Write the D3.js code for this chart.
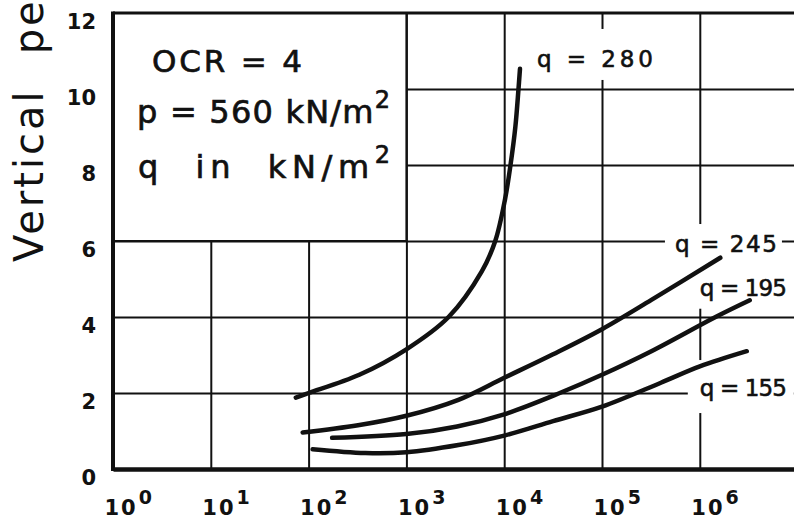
<!DOCTYPE html>
<html>
<head>
<meta charset="utf-8">
<script src="https://cdn.jsdelivr.net/npm/d3@7"></script>
<style>
  html, body { margin: 0; padding: 0; background: #fff; }
  svg { display: block; }
  text { font-family: "DejaVu Sans", "Liberation Sans", sans-serif; fill: #111; }
</style>
</head>
<body>
<script>
// Permanent strain against number of load cycles, OCR = 4, p = 560 kN/m2
const xTickValues = [1, 10, 100, 1e3, 1e4, 1e5, 1e6];
const xTickExponents = ["0", "1", "2", "3", "4", "5", "6"];
const yTickValues = [0, 2, 4, 6, 8, 10, 12];

// [number of cycles, strain]
const q280 = [[74, 1.88], [100, 2.0], [330, 2.48], [1000, 3.15], [2700, 4.0], [5900, 5.2],
  [8100, 6.0], [10200, 7.1], [11600, 8.0], [13000, 9.0], [14000, 10.0], [14500, 10.53]];
const q245 = [[87, 0.96], [320, 1.15], [1000, 1.4], [3400, 1.82], [10000, 2.4], [31600, 3.02],
  [100000, 3.68], [320000, 4.45], [1620000, 5.56]];
const q195 = [[174, 0.82], [1000, 0.92], [3300, 1.12], [10000, 1.44], [37000, 2.0], [100000, 2.48],
  [320000, 3.1], [1450000, 4.0], [3240000, 4.44]];
const q155 = [[110, 0.52], [380, 0.42], [1000, 0.44], [3400, 0.63], [10000, 0.88], [31600, 1.26],
  [100000, 1.64], [400000, 2.27], [1000000, 2.7], [3020000, 3.1]];

const seriesData = [q280, q245, q195, q155];
const seriesLabels = ["q = 280", "q = 245", "q = 195", "q = 155"];

const W = 794, H = 525;
const ink = "#111";

const svg = d3.select("body").append("svg").attr("width", W).attr("height", H);
svg.append("rect").attr("width", W).attr("height", H).attr("fill", "#fff");

const x = d3.scaleLog().domain([1, 1e7]).range([113, 797.6]);
const y = d3.scaleLinear().domain([0, 12]).range([469, 13]);

// grid
const vGrid = svg.append("g")
  .attr("transform", `translate(0,${y(0)})`)
  .call(d3.axisBottom(x).tickValues(xTickValues.slice(1)).tickSize(-(y(0) - y(12))).tickFormat(""));
vGrid.select(".domain").remove();
vGrid.selectAll("line").attr("stroke", ink).attr("stroke-width", 2);

const hGrid = svg.append("g")
  .attr("transform", `translate(${x(1)},0)`)
  .call(d3.axisLeft(y).tickValues(yTickValues.slice(1, -1)).tickSize(-(x(1e7) - x(1))).tickFormat(""));
hGrid.select(".domain").remove();
hGrid.selectAll("line").attr("stroke", ink).attr("stroke-width", 2);

// legend panel in the upper-left corner
svg.append("rect")
  .attr("x", x(1)).attr("y", y(12))
  .attr("width", x(1e3) - x(1)).attr("height", y(6) - y(12))
  .attr("fill", "#fff").attr("stroke", ink).attr("stroke-width", 2);

// frame
svg.append("line").attr("x1", x(1)).attr("x2", x(1e7)).attr("y1", y(12)).attr("y2", y(12))
  .attr("stroke", ink).attr("stroke-width", 3);
svg.append("line").attr("x1", x(1)).attr("x2", x(1)).attr("y1", y(12) - 1.5).attr("y2", y(0) + 2)
  .attr("stroke", ink).attr("stroke-width", 4);

// x axis labels: 10 with superscript exponent
const xAxis = svg.append("g")
  .attr("transform", `translate(0,${y(0)})`)
  .call(d3.axisBottom(x).tickValues(xTickValues).tickSize(0).tickFormat(""));
xAxis.select(".domain").attr("stroke", ink).attr("stroke-width", 4.5);
xAxis.selectAll(".tick text")
  .attr("x", -9).attr("y", 46).attr("dy", 0)
  .attr("text-anchor", "start")
  .style("font-size", "21px")
  .style("font-weight", "bold")
  .each(function(d, i) {
    const t = d3.select(this);
    t.append("tspan").text("10").attr("letter-spacing", 2);
    t.append("tspan").text(xTickExponents[i]).attr("dx", 1).attr("dy", -11).style("font-size", "19px");
  });

// y axis labels
const yAxis = svg.append("g")
  .attr("transform", `translate(${x(1)},0)`)
  .call(d3.axisLeft(y).tickValues(yTickValues).tickSize(0).tickPadding(17));
yAxis.select(".domain").remove();
yAxis.selectAll(".tick text")
  .attr("dy", "0.72em")
  .style("font-size", "21px")
  .style("font-weight", "bold")
  .attr("fill", ink);

// y axis title
const yTitle = svg.append("text")
  .attr("transform", `translate(43,${262}) rotate(-90)`)
  .attr("text-anchor", "start")
  .style("font-size", "40px")
  .attr("letter-spacing", 3);
yTitle.append("tspan").text("Vertical");
yTitle.append("tspan").attr("dx", 34).text("permanent strain (%)");

// curve labels; a white backing interrupts the grid behind each one
const labelPlacement = [
  { at: [21600, 10.58], len: 116, pad: [17, 7, 8, 7] },
  { at: [557000, 5.71], len: 102, pad: [7, 5, 7, 10] },
  { at: [1.0e6, 4.56], len: 87, pad: [11, 7, 8, 7] },
  { at: [1.0e6, 1.92], len: 87, pad: [15, 7, 12, 12] }
];

const backG = svg.append("g");
const curveG = svg.append("g");
const labelG = svg.append("g");

seriesLabels.forEach((lab, i) => {
  const p = labelPlacement[i];
  const t = labelG.append("text")
    .attr("x", x(p.at[0])).attr("y", y(p.at[1]))
    .attr("textLength", p.len).attr("lengthAdjust", "spacing")
    .style("font-size", "23px")
    .attr("stroke", ink).attr("stroke-width", 0.6)
    .text(lab);
  const b = t.node().getBBox();
  backG.append("rect")
    .attr("x", b.x - p.pad[3]).attr("y", b.y - p.pad[0])
    .attr("width", b.width + p.pad[1] + p.pad[3])
    .attr("height", b.height + p.pad[0] + p.pad[2])
    .attr("fill", "#fff");
});

// curves
const line = d3.line().x(d => x(d[0])).y(d => y(d[1])).curve(d3.curveCatmullRom.alpha(0.5));
curveG.selectAll("path").data(seriesData).join("path")
  .attr("d", line)
  .attr("fill", "none")
  .attr("stroke", ink)
  .attr("stroke-width", 4.5)
  .attr("stroke-linecap", "round")
  .attr("stroke-linejoin", "round");

// legend text
const legend = svg.append("g").attr("stroke", ink).attr("stroke-width", 0.7);
legend.append("text")
  .attr("x", 152).attr("y", 72)
  .attr("textLength", 150).attr("lengthAdjust", "spacing")
  .style("font-size", "31px")
  .text("OCR = 4");

const l2 = legend.append("text")
  .attr("x", 137).attr("y", 123)
  .attr("textLength", 253).attr("lengthAdjust", "spacing")
  .style("font-size", "32px");
l2.append("tspan").text("p = 560 kN/m");
l2.append("tspan").attr("dy", -15).style("font-size", "24px").text("2");

const l3 = legend.append("text")
  .attr("x", 138).attr("y", 178)
  .attr("textLength", 252).attr("lengthAdjust", "spacing")
  .attr("xml:space", "preserve")
  .style("white-space", "pre")
  .style("font-size", "32px");
l3.append("tspan").text("q  in  kN/m");
l3.append("tspan").attr("dy", -15).style("font-size", "24px").text("2");
</script>
</body>
</html>
